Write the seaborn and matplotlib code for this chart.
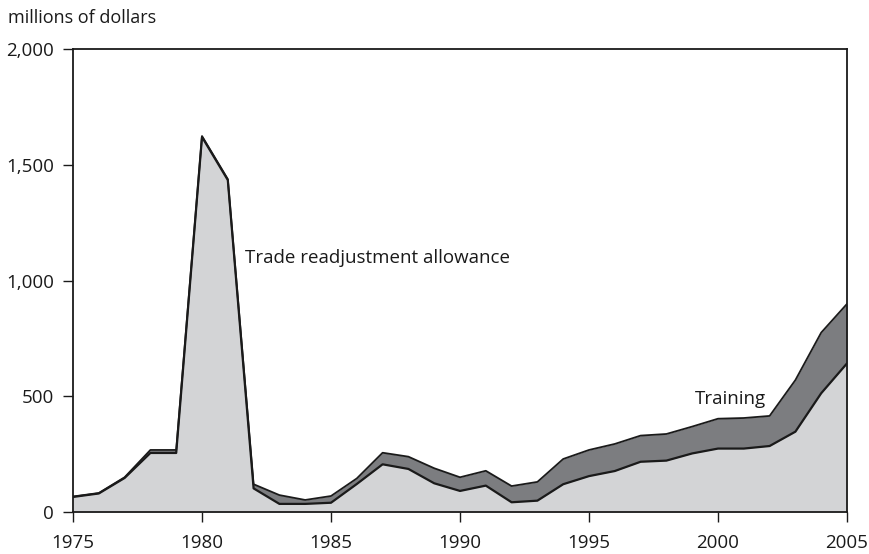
import matplotlib
matplotlib.use("Agg")
import matplotlib.pyplot as plt
import seaborn as sns
import numpy as np
import pandas as pd

years = list(range(1975, 2006))
tra = [65, 80, 147, 255, 255, 1620, 1434, 102, 35, 35, 40, 121, 206, 186, 124, 91, 114,
       42, 49, 120, 155, 177, 217, 222, 253, 274, 274, 285, 347, 513, 642]
total = [67, 82, 150, 268, 268, 1624, 1438, 120, 73, 52, 69, 145, 256, 239, 189, 150, 178,
         112, 130, 229, 268, 294, 330, 337, 369, 403, 406, 415, 570, 775, 899]
y_ticks = [0, 500, 1000, 1500, 2000]
y_tick_labels = ["0", "500", "1,000", "1,500", "2,000"]
x_ticks = [1975, 1980, 1985, 1990, 1995, 2000, 2005]

df = pd.DataFrame({"year": years, "tra": tra, "total": total})

sns.set_theme(style="ticks")
plt.rcParams["font.family"] = ["Open Sans", "DejaVu Sans"]

fig = plt.figure(figsize=(8.7, 5.54), dpi=100)
ax = fig.add_axes([73 / 870, 1 - 512 / 554, (847 - 73) / 870, (512 - 49) / 554])

light = "#d3d4d6"
dark = "#7c7d80"
ink = "#1a1a1a"

ax.fill_between(df["year"], 0, df["tra"], color=light, linewidth=0, zorder=1)
ax.fill_between(df["year"], df["tra"], df["total"], color=dark, linewidth=0, zorder=1)
sns.lineplot(data=df, x="year", y="tra", ax=ax, color=ink, linewidth=1.6, zorder=3)
sns.lineplot(data=df, x="year", y="total", ax=ax, color=ink, linewidth=1.3, zorder=3)

ax.set_xlim(1975, 2005)
ax.set_ylim(0, 2000)
ax.set_xticks(x_ticks)
ax.set_xticklabels([str(x) for x in x_ticks])
ax.set_yticks(y_ticks)
ax.set_yticklabels(y_tick_labels)
ax.set_xlabel("")
ax.set_ylabel("")
for s in ax.spines.values():
    s.set_linewidth(1.3)
    s.set_color(ink)
ax.tick_params(axis="both", direction="out", length=7.5, width=1.0, color=ink,
               labelsize=13.5, labelcolor=ink)
ax.tick_params(axis="x", pad=8)
ax.tick_params(axis="y", pad=6)

ax.text(1981.67, 1097, "Trade readjustment allowance", fontsize=13.5, color=ink,
        ha="left", va="center")
ax.text(2000.47, 486, "Training", fontsize=13.5, color=ink, ha="center", va="center")

fig.text(8 / 870, 1 - 18 / 554, "millions of dollars", fontsize=13, color=ink,
         ha="left", va="center")

fig.savefig("out.png", dpi=100, facecolor="white")
